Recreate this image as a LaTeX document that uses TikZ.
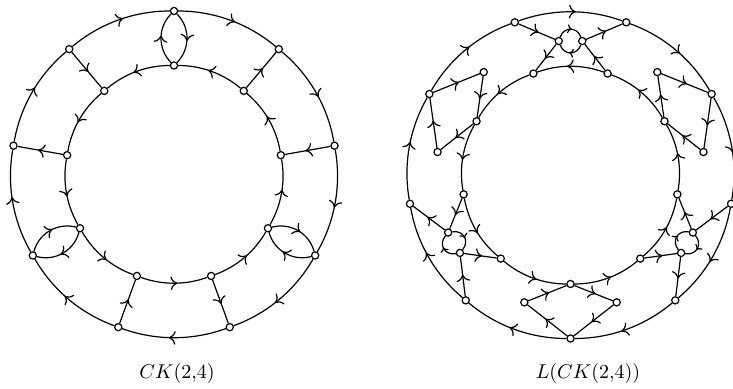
\documentclass[tikz,border=0pt]{standalone}
\usepackage{amsmath}
\usepackage{tikz}
\usetikzlibrary{arrows.meta,decorations.markings}

\tikzset{
  midarrow/.style={postaction={decorate},
    decoration={markings,mark=at position 0.55 with {\arrow{To[length=3.4pt,width=6.8pt]}}}},
  smallarrow/.style={postaction={decorate},
    decoration={markings,mark=at position 0.55 with {\arrow{To[length=2.2pt,width=4.4pt]}}}},
  rim/.style={midarrow,bend left=20,looseness=0.88},
  hub/.style={midarrow,bend right=20,looseness=0.88}
}

\begin{document}
\begin{tikzpicture}[x=0.5pt,y=0.5pt,line width=0.6pt,
    every node/.style={circle,draw,fill=white,minimum size=3.6pt,inner sep=0pt}]
  \useasboundingbox (0,0) rectangle (733,389);

  % CK(2,4)
  \begin{scope}[shift={(174,215)}]
    \foreach \k in {0,...,8}{
      \pgfmathsetmacro\ang{90-40*\k}
      \node (o\k) at (\ang:163) {};
      \node (i\k) at (\ang:108.5) {};
    }
  \end{scope}
  \foreach \k in {0,...,8}{
    \pgfmathtruncatemacro\n{mod(\k+1,9)}
    \draw[rim] (o\k) to (o\n);
    \draw[hub] (i\n) to (i\k);
  }
  \foreach \j in {0,1,2}{
    \pgfmathtruncatemacro\k{3*\j}
    \pgfmathtruncatemacro\m{3*\j+1}
    \pgfmathtruncatemacro\n{3*\j+2}
    \draw[midarrow] (o\k) to[bend left=45] (i\k);
    \draw[midarrow] (i\k) to[bend left=45] (o\k);
    \draw[midarrow] (i\m) -- (o\m);
    \draw[midarrow] (o\n) -- (i\n);
  }
  \node[rectangle,draw=none,fill=none] (name1) at (177,15) {$CK(2{,}4)$};

  % L(CK(2,4))
  \begin{scope}[shift={(570.5,213.5)}]
    \foreach \k in {0,...,8}{
      \pgfmathsetmacro\ang{70-40*\k}
      \node (a\k) at (\ang:163) {};
      \node (b\k) at (\ang:108.5) {};
    }
    \foreach \j in {0,1,2}{
      \node (d\j) at (95-120*\j:135) {};
      \node (u\j) at (85-120*\j:135) {};
      \node (p\j) at (50-120*\j:135) {};
      \node (q\j) at (10-120*\j:135) {};
    }
  \end{scope}
  \foreach \k in {0,...,8}{
    \pgfmathtruncatemacro\n{mod(\k+1,9)}
    \draw[rim] (a\k) to (a\n);
    \draw[hub] (b\n) to (b\k);
  }
  \foreach \j in {0,1,2}{
    \pgfmathtruncatemacro\k{3*\j}
    \pgfmathtruncatemacro\l{mod(3*\j+8,9)}
    \pgfmathtruncatemacro\m{3*\j+1}
    \draw[midarrow] (a\l) -- (d\j);
    \draw[midarrow] (d\j) -- (b\l);
    \draw[midarrow] (b\k) -- (u\j);
    \draw[midarrow] (u\j) -- (a\k);
    \draw[smallarrow] (d\j) to[bend left=70,looseness=1.4] (u\j);
    \draw[smallarrow] (u\j) to[bend left=70,looseness=1.4] (d\j);
    \draw[midarrow] (b\m) -- (p\j);
    \draw[midarrow] (p\j) -- (a\m);
    \draw[midarrow] (a\m) -- (q\j);
    \draw[midarrow] (q\j) -- (b\m);
  }
  \node[rectangle,draw=none,fill=none] (name2) at (588,15) {$L(CK(2{,}4))$};
\end{tikzpicture}
\end{document}
